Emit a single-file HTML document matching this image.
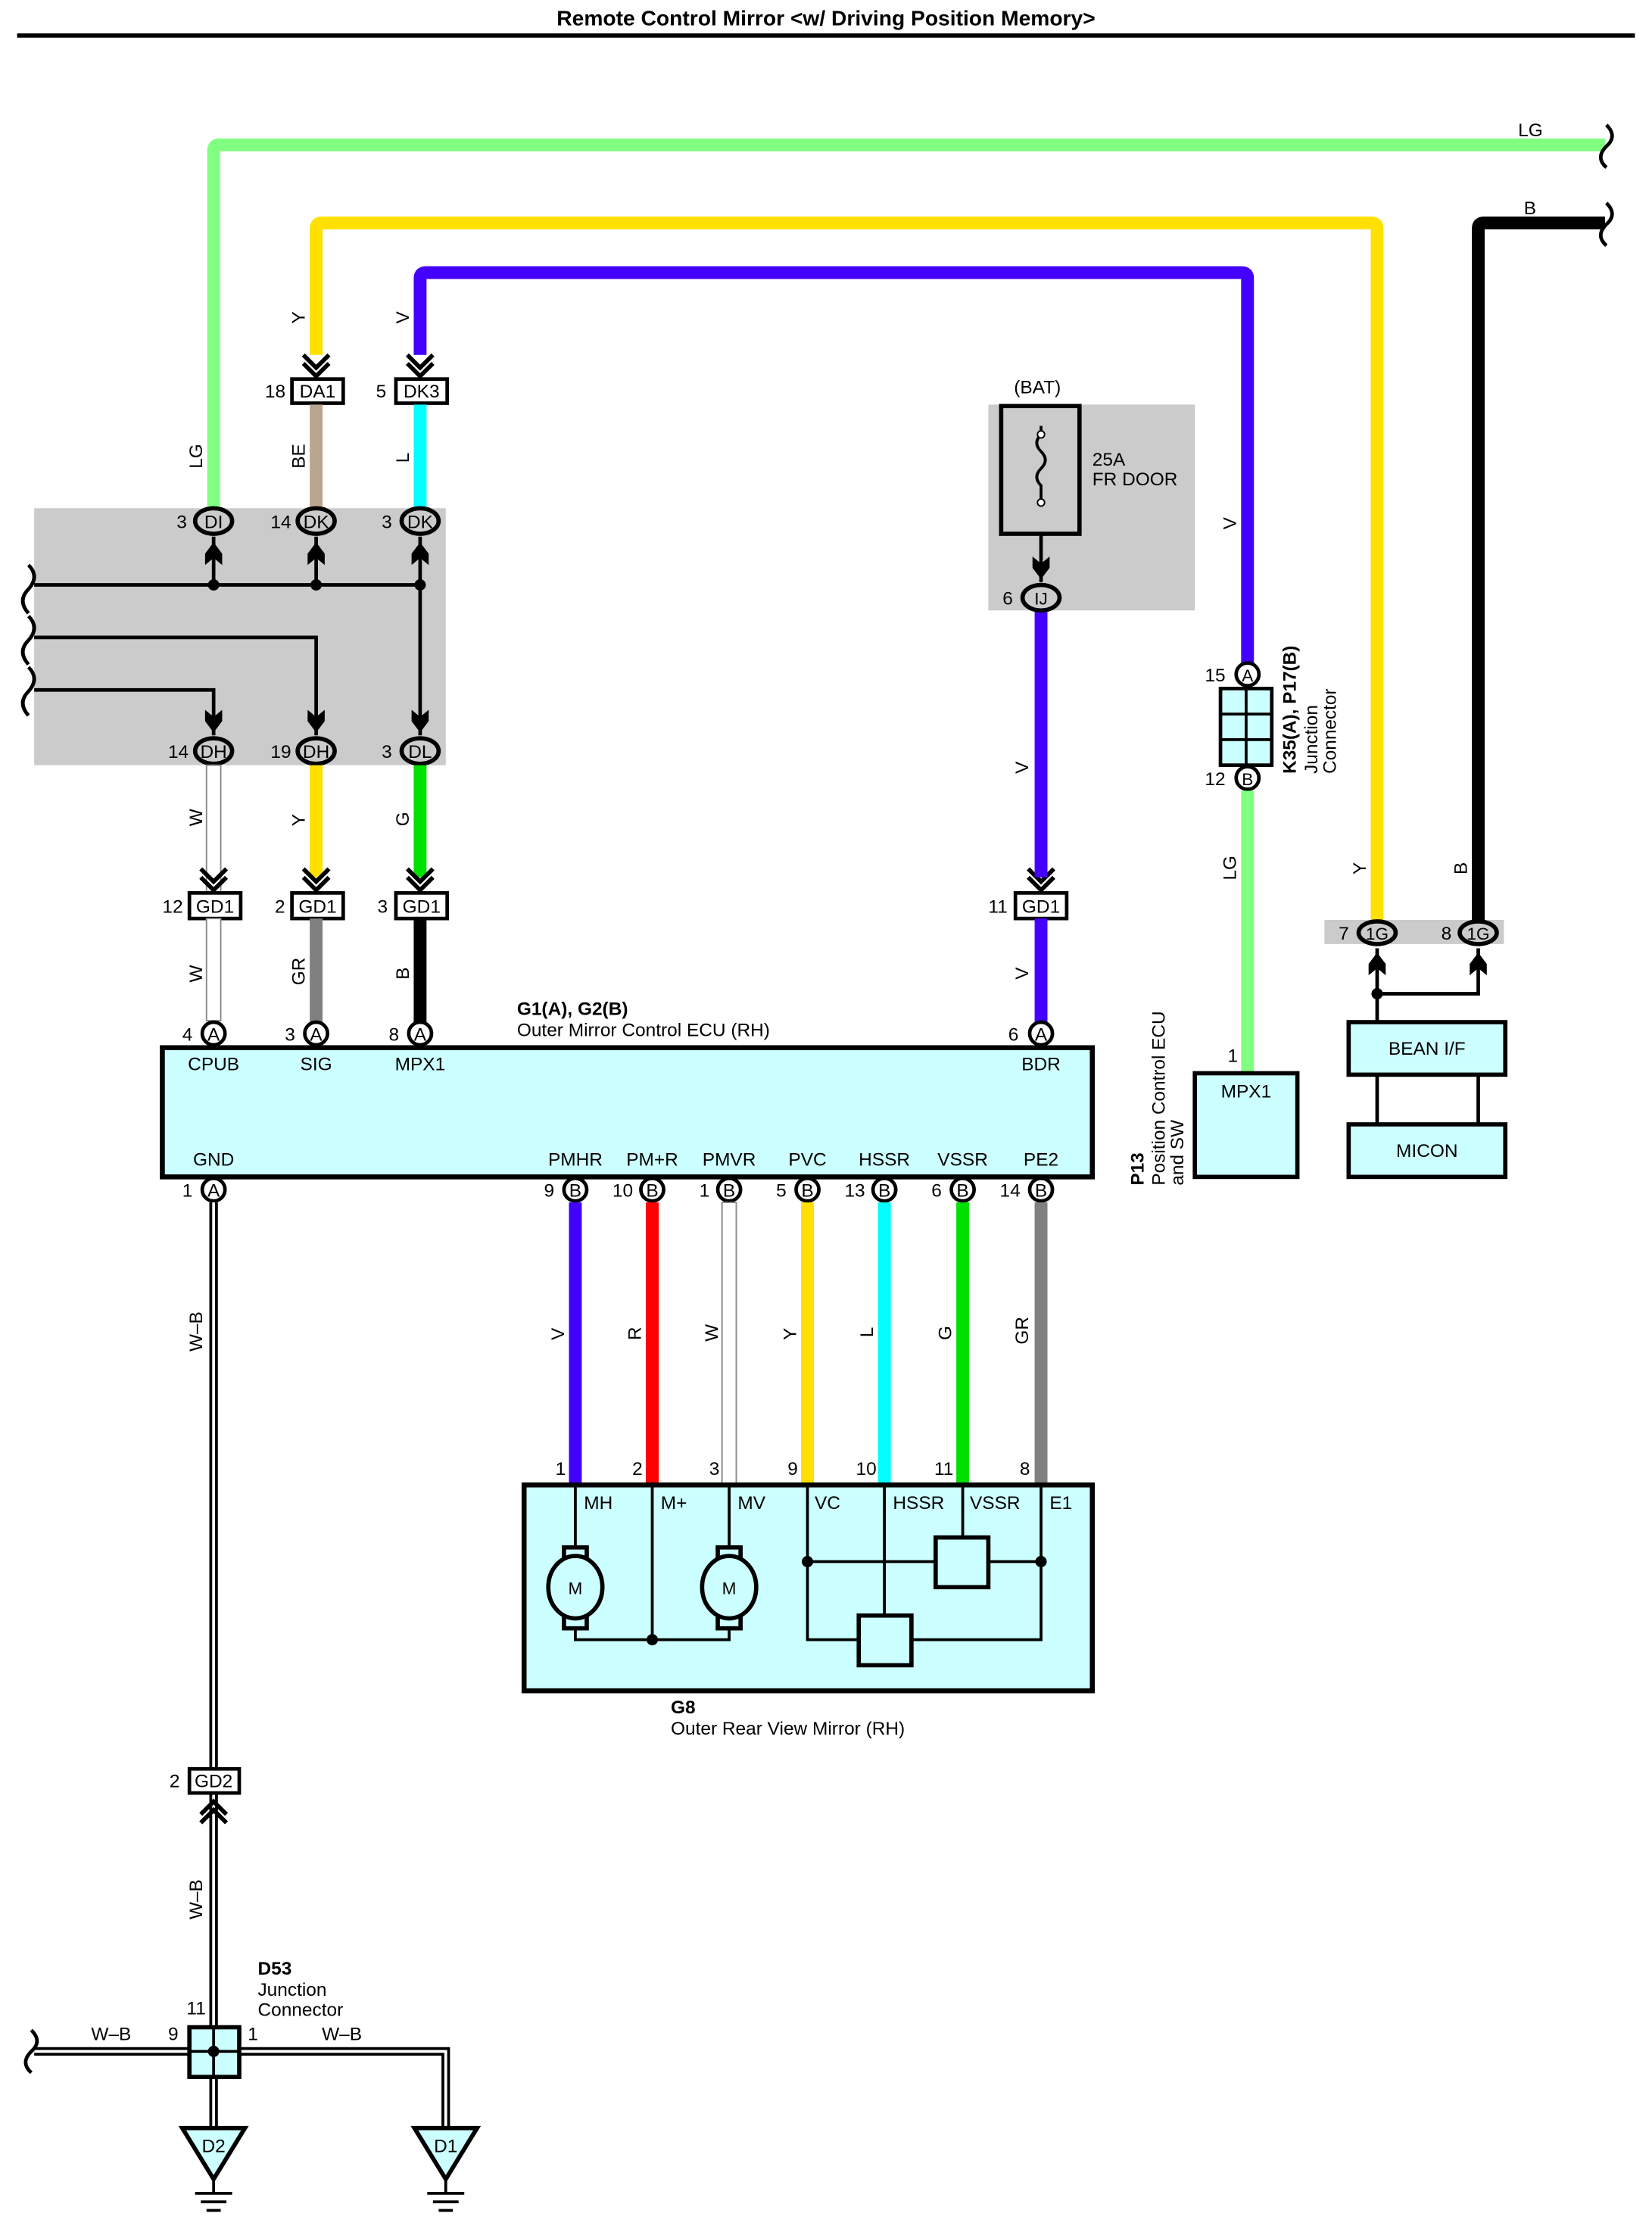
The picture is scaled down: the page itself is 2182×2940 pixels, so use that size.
<!DOCTYPE html>
<html><head><meta charset="utf-8"><style>
html,body{margin:0;padding:0;background:#fff}
svg{display:block}
text{font-family:"Liberation Sans",Arial,sans-serif;font-size:13px;fill:#000}
.b{font-weight:bold}
</style></head><body>
<svg width="2182" height="2940" viewBox="0 0 1160 1568" preserveAspectRatio="none" xmlns="http://www.w3.org/2000/svg">
<defs>
<g id="chev"><path d="M-9,-12 L0,-3 L9,-12 M-9,-6 L0,3 L9,-6" fill="none" stroke="#000" stroke-width="3"/></g>
<g id="arrU"><path d="M-6,12 L-6,4 L0,-4 L6,4 L6,12 L0,7 Z" fill="#000"/></g>
<g id="arrD"><path d="M-6,-12 L-6,-4 L0,4 L6,-4 L6,-12 L0,-7 Z" fill="#000"/></g>
</defs>
<rect width="1160" height="1568" fill="#fff"/>
<text x="580" y="18" text-anchor="middle" class="b" style="font-size:15px">Remote Control Mirror &lt;w/ Driving Position Memory&gt;</text>
<line x1="12" y1="25" x2="1148" y2="25" stroke="#000" stroke-width="3"/>

<!-- gray areas -->
<rect x="24" y="358" width="289" height="181" fill="#cbcbcb"/>
<rect x="694" y="285" width="145" height="145" fill="#cbcbcb"/>
<rect x="930" y="648" width="126" height="17" fill="#cbcbcb"/>

<!-- top wires -->
<path d="M150,358 V106 Q150,102 154,102 H1127" fill="none" stroke="#80ff80" stroke-width="9"/>
<path d="M222,250 V161 Q222,157 226,157 H963 Q967,157 967,161 V650" fill="none" stroke="#ffe000" stroke-width="9"/>
<path d="M295,250 V196 Q295,192 299,192 H872 Q876,192 876,196 V467" fill="none" stroke="#4400ff" stroke-width="9"/>
<path d="M1038,650 V161 Q1038,157 1042,157 H1127" fill="none" stroke="#000" stroke-width="9"/>
<path d="M1128,88 q8,8 0,15 q-8,8 0,15" fill="none" stroke="#000" stroke-width="2.5"/>
<path d="M1128,143 q8,8 0,15 q-8,8 0,15" fill="none" stroke="#000" stroke-width="2.5"/>
<text x="1066" y="96">LG</text><text x="1070" y="151">B</text>
<text transform="translate(214,228) rotate(-90)">Y</text>
<text transform="translate(287,228) rotate(-90)">V</text>
<use href="#chev" x="222" y="262"/><use href="#chev" x="295" y="262"/>
<rect x="205" y="267" width="36" height="17" fill="#fff" stroke="#000" stroke-width="2.5"/><text x="223" y="280" text-anchor="middle">DA1</text><text x="186" y="280">18</text>
<rect x="278" y="267" width="36" height="17" fill="#fff" stroke="#000" stroke-width="2.5"/><text x="296" y="280" text-anchor="middle">DK3</text><text x="264" y="280">5</text>
<line x1="222" y1="285" x2="222" y2="358" stroke="#baa58f" stroke-width="9"/>
<line x1="295" y1="285" x2="295" y2="358" stroke="#00ffff" stroke-width="9"/>
<text transform="translate(142,330) rotate(-90)">LG</text>
<text transform="translate(214,330) rotate(-90)">BE</text>
<text transform="translate(287,326) rotate(-90)">L</text>

<!-- gray junction internals -->
<g stroke="#000" stroke-width="2.5" fill="none">
<path d="M24,412 H295"/><path d="M150,378 V412 M222,378 V412 M295,378 V518"/>
<path d="M24,449 H222 V518"/><path d="M24,486 H150 V518"/>
<path d="M20,398 q8,8 0,17 q-8,8 0,17 M20,434 q8,8 0,17 q-8,8 0,17 M20,470 q8,8 0,17 q-8,8 0,17"/>
</g>
<g fill="#000"><circle cx="150" cy="412" r="4"/><circle cx="222" cy="412" r="4"/><circle cx="295" cy="412" r="4"/></g>
<use href="#arrU" x="150" y="386"/><use href="#arrU" x="222" y="386"/><use href="#arrU" x="295" y="386"/>
<use href="#arrD" x="150" y="512"/><use href="#arrD" x="222" y="512"/><use href="#arrD" x="295" y="512"/>
<g fill="#cbcbcb" stroke="#000" stroke-width="3">
<ellipse cx="150" cy="367" rx="13" ry="9"/><ellipse cx="222" cy="367" rx="13" ry="9"/><ellipse cx="295" cy="367" rx="13" ry="9"/>
<ellipse cx="150" cy="529" rx="13" ry="9"/><ellipse cx="222" cy="529" rx="13" ry="9"/><ellipse cx="295" cy="529" rx="13" ry="9"/>
</g>
<g text-anchor="middle" style="font-size:12px">
<text x="150" y="372">DI</text><text x="222" y="372">DK</text><text x="295" y="372">DK</text>
<text x="150" y="534">DH</text><text x="222" y="534">DH</text><text x="295" y="534">DL</text>
</g>
<text x="124" y="372">3</text><text x="190" y="372">14</text><text x="268" y="372">3</text>
<text x="118" y="534">14</text><text x="190" y="534">19</text><text x="268" y="534">3</text>

<!-- mid wires -->
<rect x="145" y="539" width="10" height="90" fill="#fff" stroke="#888" stroke-width="1"/>
<line x1="222" y1="539" x2="222" y2="618" stroke="#ffe000" stroke-width="9"/>
<line x1="295" y1="539" x2="295" y2="618" stroke="#00e000" stroke-width="9"/>
<text transform="translate(142,582) rotate(-90)">W</text>
<text transform="translate(214,582) rotate(-90)">Y</text>
<text transform="translate(287,582) rotate(-90)">G</text>
<use href="#chev" x="150" y="624"/><use href="#chev" x="222" y="624"/><use href="#chev" x="295" y="624"/><use href="#chev" x="731" y="624"/>
<g fill="#fff" stroke="#000" stroke-width="2.5">
<rect x="133" y="629" width="36" height="18"/><rect x="205" y="629" width="36" height="18"/><rect x="278" y="629" width="36" height="18"/><rect x="713" y="629" width="36" height="18"/>
</g>
<g text-anchor="middle"><text x="151" y="643">GD1</text><text x="223" y="643">GD1</text><text x="296" y="643">GD1</text><text x="731" y="643">GD1</text></g>
<text x="114" y="643">12</text><text x="193" y="643">2</text><text x="265" y="643">3</text><text x="694" y="643">11</text>
<rect x="145" y="647" width="10" height="72" fill="#fff" stroke="#888" stroke-width="1"/>
<line x1="222" y1="647" x2="222" y2="720" stroke="#808080" stroke-width="9"/>
<line x1="295" y1="647" x2="295" y2="720" stroke="#000" stroke-width="9"/>
<text transform="translate(142,692) rotate(-90)">W</text>
<text transform="translate(214,694) rotate(-90)">GR</text>
<text transform="translate(287,690) rotate(-90)">B</text>

<!-- BAT -->
<text x="712" y="277">(BAT)</text>
<rect x="703" y="286" width="55" height="90" fill="#cbcbcb" stroke="#000" stroke-width="3"/>
<path d="M731,300 v6 q-6,6 0,12 q6,6 0,12 q-6,6 0,12 v12" fill="none" stroke="#000" stroke-width="2"/>
<circle cx="731" cy="306" r="2.5" fill="#fff" stroke="#000"/><circle cx="731" cy="354" r="2.5" fill="#fff" stroke="#000"/>
<line x1="731" y1="376" x2="731" y2="410" stroke="#000" stroke-width="2.5"/>
<use href="#arrD" x="731" y="404"/>
<text x="767" y="328">25A</text><text x="767" y="342">FR DOOR</text>
<line x1="731" y1="430" x2="731" y2="618" stroke="#4400ff" stroke-width="9"/>
<ellipse cx="731" cy="421" rx="13" ry="9" fill="#cbcbcb" stroke="#000" stroke-width="3"/>
<text x="731" y="426" text-anchor="middle" style="font-size:12px">IJ</text><text x="704" y="426">6</text>
<text transform="translate(722,545) rotate(-90)">V</text>
<line x1="731" y1="647" x2="731" y2="720" stroke="#4400ff" stroke-width="9"/>
<text transform="translate(722,690) rotate(-90)">V</text>

<!-- K35 junction -->
<text transform="translate(868,373) rotate(-90)">V</text>
<rect x="857" y="485" width="36" height="54" fill="#ccffff" stroke="#000" stroke-width="2.5"/>
<path d="M875,485 V539 M857,503 H893 M857,521 H893" stroke="#000" stroke-width="2"/>
<circle cx="876" cy="475" r="8" fill="#fff" stroke="#000" stroke-width="2.5"/><text x="876" y="480" text-anchor="middle" style="font-size:12px">A</text><text x="846" y="480">15</text>
<circle cx="876" cy="548" r="8" fill="#fff" stroke="#000" stroke-width="2.5"/><text x="876" y="553" text-anchor="middle" style="font-size:12px">B</text><text x="846" y="553">12</text>
<text transform="translate(910,545) rotate(-90)" class="b">K35(A), P17(B)</text>
<text transform="translate(925,545) rotate(-90)">Junction</text>
<text transform="translate(938,545) rotate(-90)">Connector</text>
<line x1="876" y1="557" x2="876" y2="756" stroke="#80ff80" stroke-width="9"/>
<text transform="translate(868,620) rotate(-90)">LG</text>
<text x="862" y="748">1</text>
<rect x="839" y="756" width="72" height="73" fill="#ccffff" stroke="#000" stroke-width="3"/>
<text x="875" y="773" text-anchor="middle">MPX1</text>
<text transform="translate(803,835) rotate(-90)" class="b">P13</text>
<text transform="translate(818,835) rotate(-90)">Position Control ECU</text>
<text transform="translate(831,835) rotate(-90)">and SW</text>

<!-- right -->
<text transform="translate(959,616) rotate(-90)">Y</text>
<text transform="translate(1030,616) rotate(-90)">B</text>
<ellipse cx="967" cy="657" rx="13" ry="8" fill="#cbcbcb" stroke="#000" stroke-width="3"/>
<ellipse cx="1038" cy="657" rx="13" ry="8" fill="#cbcbcb" stroke="#000" stroke-width="3"/>
<text x="967" y="662" text-anchor="middle" style="font-size:12px">1G</text><text x="1038" y="662" text-anchor="middle" style="font-size:12px">1G</text>
<text x="940" y="662">7</text><text x="1012" y="662">8</text>
<path d="M967,668 V720 M1038,668 V700 H967" fill="none" stroke="#000" stroke-width="2.5"/>
<circle cx="967" cy="700" r="4" fill="#000"/>
<use href="#arrU" x="967" y="675"/><use href="#arrU" x="1038" y="675"/>
<rect x="947" y="720" width="110" height="37" fill="#ccffff" stroke="#000" stroke-width="3"/>
<text x="1002" y="743" text-anchor="middle">BEAN I/F</text>
<path d="M967,757 V792 M1038,757 V792" stroke="#000" stroke-width="2.5"/>
<rect x="947" y="792" width="110" height="37" fill="#ccffff" stroke="#000" stroke-width="3"/>
<text x="1002" y="815" text-anchor="middle">MICON</text>

<!-- ECU -->
<text x="363" y="715" class="b">G1(A), G2(B)</text>
<text x="363" y="730">Outer Mirror Control ECU (RH)</text>
<rect x="114" y="738" width="653" height="91" fill="#ccffff" stroke="#000" stroke-width="3.5"/>
<g fill="#fff" stroke="#000" stroke-width="2.5">
<circle cx="150" cy="728" r="8"/><circle cx="222" cy="728" r="8"/><circle cx="295" cy="728" r="8"/><circle cx="731" cy="728" r="8"/>
<circle cx="150" cy="838" r="8"/><circle cx="404" cy="838" r="8"/><circle cx="458" cy="838" r="8"/><circle cx="512" cy="838" r="8"/><circle cx="567" cy="838" r="8"/><circle cx="621" cy="838" r="8"/><circle cx="676" cy="838" r="8"/><circle cx="731" cy="838" r="8"/>
</g>
<g text-anchor="middle" style="font-size:12px">
<text x="150" y="733">A</text><text x="222" y="733">A</text><text x="295" y="733">A</text><text x="731" y="733">A</text>
<text x="150" y="843">A</text><text x="404" y="843">B</text><text x="458" y="843">B</text><text x="512" y="843">B</text><text x="567" y="843">B</text><text x="621" y="843">B</text><text x="676" y="843">B</text><text x="731" y="843">B</text>
</g>
<text x="128" y="733">4</text><text x="200" y="733">3</text><text x="273" y="733">8</text><text x="708" y="733">6</text>
<text x="128" y="843">1</text><text x="382" y="843">9</text><text x="430" y="843">10</text><text x="491" y="843">1</text><text x="545" y="843">5</text><text x="593" y="843">13</text><text x="654" y="843">6</text><text x="702" y="843">14</text>
<g text-anchor="middle">
<text x="150" y="754">CPUB</text><text x="222" y="754">SIG</text><text x="295" y="754">MPX1</text><text x="731" y="754">BDR</text>
<text x="150" y="821">GND</text><text x="404" y="821">PMHR</text><text x="458" y="821">PM+R</text><text x="512" y="821">PMVR</text><text x="567" y="821">PVC</text><text x="621" y="821">HSSR</text><text x="676" y="821">VSSR</text><text x="731" y="821">PE2</text>
</g>

<!-- ECU to G8 wires -->
<line x1="404" y1="847" x2="404" y2="1046" stroke="#4400ff" stroke-width="9"/>
<line x1="458" y1="847" x2="458" y2="1046" stroke="#ff0000" stroke-width="9"/>
<rect x="507" y="847" width="10" height="199" fill="#fff" stroke="#888" stroke-width="1"/>
<line x1="567" y1="847" x2="567" y2="1046" stroke="#ffe000" stroke-width="9"/>
<line x1="621" y1="847" x2="621" y2="1046" stroke="#00ffff" stroke-width="9"/>
<line x1="676" y1="847" x2="676" y2="1046" stroke="#00e000" stroke-width="9"/>
<line x1="731" y1="847" x2="731" y2="1046" stroke="#808080" stroke-width="9"/>
<text transform="translate(396,944) rotate(-90)">V</text>
<text transform="translate(450,944) rotate(-90)">R</text>
<text transform="translate(504,945) rotate(-90)">W</text>
<text transform="translate(559,944) rotate(-90)">Y</text>
<text transform="translate(613,942) rotate(-90)">L</text>
<text transform="translate(668,944) rotate(-90)">G</text>
<text transform="translate(722,947) rotate(-90)">GR</text>
<text x="390" y="1039">1</text><text x="444" y="1039">2</text><text x="498" y="1039">3</text><text x="553" y="1039">9</text><text x="601" y="1039">10</text><text x="656" y="1039">11</text><text x="716" y="1039">8</text>

<!-- G8 -->
<rect x="368" y="1046" width="399" height="145" fill="#ccffff" stroke="#000" stroke-width="3.5"/>
<g stroke="#000" stroke-width="2" fill="none">
<path d="M404,1046 V1093 M404,1142 V1155 H512 V1142 M512,1046 V1093 M458,1046 V1155"/>
<path d="M567,1046 V1155 H603 M640,1155 H731 V1046 M567,1100 H657 M694,1100 H731 M621,1046 V1138 M676,1046 V1083"/>
</g>
<g stroke="#000" stroke-width="3" fill="#ccffff">
<rect x="396" y="1090" width="16" height="10"/><rect x="396" y="1137" width="16" height="10"/>
<rect x="504" y="1090" width="16" height="10"/><rect x="504" y="1137" width="16" height="10"/>
<ellipse cx="404" cy="1118" rx="19" ry="22"/><ellipse cx="512" cy="1118" rx="19" ry="22"/>
<rect x="657" y="1083" width="37" height="35"/><rect x="603" y="1138" width="37" height="35"/>
</g>
<g fill="#000"><circle cx="458" cy="1155" r="4"/><circle cx="567" cy="1100" r="4"/><circle cx="731" cy="1100" r="4"/></g>
<text x="404" y="1123" text-anchor="middle" style="font-size:12px">M</text><text x="512" y="1123" text-anchor="middle" style="font-size:12px">M</text>
<text x="410" y="1063">MH</text><text x="464" y="1063">M+</text><text x="518" y="1063">MV</text><text x="572" y="1063">VC</text><text x="627" y="1063">HSSR</text><text x="681" y="1063">VSSR</text><text x="737" y="1063">E1</text>
<text x="471" y="1207" class="b">G8</text><text x="471" y="1222">Outer Rear View Mirror (RH)</text>

<!-- W-B ground -->
<path d="M150,847 V1246 M150,1263 V1428" stroke="#000" stroke-width="6"/>
<path d="M150,847 V1246 M150,1263 V1428" stroke="#fff" stroke-width="2"/>
<text transform="translate(142,952) rotate(-90)">W–B</text>
<rect x="133" y="1246" width="35" height="17" fill="#fff" stroke="#000" stroke-width="2.5"/>
<text x="150" y="1259" text-anchor="middle">GD2</text><text x="119" y="1259">2</text>
<path d="M141,1278 L150,1269 L159,1278 M141,1284 L150,1275 L159,1284" fill="none" stroke="#000" stroke-width="3"/>
<text transform="translate(142,1352) rotate(-90)">W–B</text>
<text x="181" y="1391" class="b">D53</text><text x="181" y="1406">Junction</text><text x="181" y="1420">Connector</text>
<path d="M24,1445 H133 M168,1445 H313 V1498 M150,1463 V1498" fill="none" stroke="#000" stroke-width="6"/>
<path d="M24,1445 H133 M168,1445 H313 V1498 M150,1463 V1498" fill="none" stroke="#fff" stroke-width="2"/>
<path d="M22,1430 q8,8 0,15 q-8,8 0,15" fill="none" stroke="#000" stroke-width="2.5"/>
<text x="64" y="1437">W–B</text><text x="226" y="1437">W–B</text>
<rect x="133" y="1428" width="35" height="35" fill="#ccffff" stroke="#000" stroke-width="3"/>
<path d="M150,1428 V1463 M133,1445 H168" stroke="#000" stroke-width="2"/>
<circle cx="150" cy="1445" r="4" fill="#000"/>
<text x="131" y="1419">11</text><text x="118" y="1437">9</text><text x="174" y="1437">1</text>
<g fill="#ccffff" stroke="#000" stroke-width="3">
<path d="M128,1499 H172 L150,1535 Z"/><path d="M291,1499 H335 L313,1535 Z"/>
</g>
<text x="150" y="1516" text-anchor="middle">D2</text><text x="313" y="1516" text-anchor="middle">D1</text>
<g stroke="#000" stroke-width="2">
<path d="M150,1535 V1545 M137,1545 H163 M141,1551 H159 M145,1557 H155"/>
<path d="M313,1535 V1545 M300,1545 H326 M304,1551 H322 M308,1557 H318"/>
</g>
</svg>
</body></html>
